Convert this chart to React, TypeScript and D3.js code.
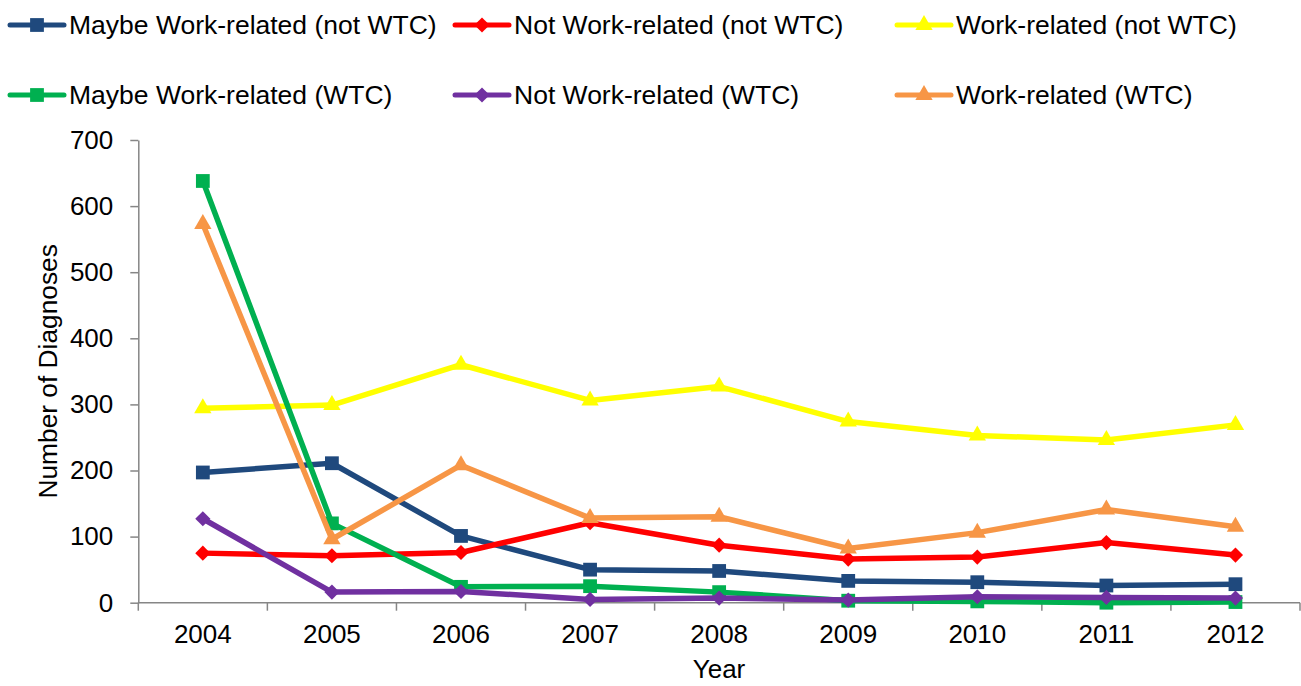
import React, { useEffect, useRef } from "react";
import * as d3 from "d3";

const years = ["2004", "2005", "2006", "2007", "2008", "2009", "2010", "2011", "2012"];
const yTicks = [0, 100, 200, 300, 400, 500, 600, 700];

const maybeNotWtc = [197, 211, 101, 50, 48, 33, 31, 26, 28];
const notNotWtc = [75, 71, 76, 121, 87, 66, 69, 91, 72];
const workNotWtc = [294, 299, 360, 306, 327, 274, 253, 246, 269];
const maybeWtc = [638, 120, 24, 25, 16, 3, 2, 0, 1];
const notWtc = [127, 16, 17, 5, 7, 4, 9, 8, 7];
const workWtc = [573, 96, 208, 128, 130, 82, 106, 141, 115];

const seriesNames = [
  "Maybe Work-related (not WTC)",
  "Not Work-related (not WTC)",
  "Work-related (not WTC)",
  "Maybe Work-related (WTC)",
  "Not Work-related (WTC)",
  "Work-related (WTC)",
];
const seriesColors = ["#1F497D", "#FF0000", "#FFFF00", "#00B050", "#7030A0", "#F79646"];
const seriesMarkers = ["square", "diamond", "triangle", "square", "diamond", "triangle"];

const W = 1301;
const H = 686;
const FONT = "Liberation Sans, Arial, sans-serif";

function markerPath(kind: string) {
  if (kind === "square") return d3.symbol(d3.symbolSquare, 190)()!;
  if (kind === "diamond") return d3.symbol(d3.symbolSquare, 115)()!;
  return d3.symbol(d3.symbolTriangle, 130)()!;
}

export default function App() {
  const svgRef = useRef<SVGSVGElement>(null);

  useEffect(() => {
    if (!svgRef.current) return;
    const svg = d3.select(svgRef.current);
    svg.selectAll("*").remove();

    const data = [maybeNotWtc, notNotWtc, workNotWtc, maybeWtc, notWtc, workWtc];

    const x = d3.scaleBand().domain(years).range([138.3, 1300]);
    const y = d3.scaleLinear().domain([0, 700]).range([602.7, 140]);
    const cx = (yr: string) => (x(yr) || 0) + x.bandwidth() / 2;

    // y-axis
    const yAxis = svg
      .append("g")
      .attr("transform", `translate(${x.range()[0]},0)`)
      .call(d3.axisLeft(y).tickValues(yTicks).tickSize(8).tickPadding(17).tickSizeOuter(0));
    yAxis.selectAll("text").style("font-size", "26px").style("font-family", FONT).attr("fill", "#000");

    // x-axis, ticks between categories
    const xAxis = svg.append("g").attr("transform", `translate(0,${y(0)})`);
    xAxis
      .append("line")
      .attr("x1", x.range()[0])
      .attr("x2", x.range()[1])
      .attr("stroke", "#868686")
      .attr("stroke-width", 1.5);
    const bounds = years.map((d) => x(d) || 0).concat([x.range()[1]]);
    xAxis
      .selectAll("line.tk")
      .data(bounds)
      .join("line")
      .attr("class", "tk")
      .attr("x1", (d) => d)
      .attr("x2", (d) => d)
      .attr("y1", 0)
      .attr("y2", 8)
      .attr("stroke", "#868686")
      .attr("stroke-width", 1.5);
    xAxis
      .selectAll("text")
      .data(years)
      .join("text")
      .attr("x", (d) => cx(d))
      .attr("y", 40)
      .attr("text-anchor", "middle")
      .style("font-size", "26px")
      .style("font-family", FONT)
      .text((d) => d);

    svg.selectAll(".domain").attr("stroke", "#868686").attr("stroke-width", 1.5);
    yAxis.selectAll(".tick line").attr("stroke", "#868686").attr("stroke-width", 1.5);

    // axis titles
    svg
      .append("text")
      .attr("x", 719)
      .attr("y", 678)
      .attr("text-anchor", "middle")
      .style("font-size", "26px")
      .style("font-family", FONT)
      .text("Year");
    svg
      .append("text")
      .attr("transform", `translate(57,${(y(0) + y(700)) / 2}) rotate(-90)`)
      .attr("text-anchor", "middle")
      .style("font-size", "26.3px")
      .style("font-family", FONT)
      .text("Number of Diagnoses");

    const line = d3
      .line<number>()
      .x((_, i) => cx(years[i]))
      .y((d) => y(d));

    data.forEach((vals, si) => {
      const g = svg.append("g");
      g.append("path")
        .attr("d", line(vals))
        .attr("fill", "none")
        .attr("stroke", seriesColors[si])
        .attr("stroke-width", 5.5)
        .attr("stroke-linejoin", "round");
      g.selectAll("path.m")
        .data(vals)
        .join("path")
        .attr("class", "m")
        .attr("d", markerPath(seriesMarkers[si]))
        .attr("transform", (d, i) => {
          const rot = seriesMarkers[si] === "diamond" ? " rotate(45)" : "";
          return `translate(${cx(years[i])},${y(d)})${rot}`;
        })
        .attr("fill", seriesColors[si]);
    });

    // legend
    const legX = [10, 455, 897];
    const legY = [25, 95];
    seriesNames.forEach((name, i) => {
      const lx = legX[i % 3];
      const ly = legY[Math.floor(i / 3)];
      const g = svg.append("g").attr("transform", `translate(${lx},${ly})`);
      g.append("line")
        .attr("x1", 0)
        .attr("x2", 54)
        .attr("stroke", seriesColors[i])
        .attr("stroke-width", 5)
        .attr("stroke-linecap", "round");
      g.append("path")
        .attr("d", markerPath(seriesMarkers[i]))
        .attr("transform", `translate(27,0)${seriesMarkers[i] === "diamond" ? " rotate(45)" : ""}`)
        .attr("fill", seriesColors[i]);
      g.append("text")
        .attr("x", 59)
        .attr("dy", "0.35em")
        .style("font-size", "26.5px")
        .style("font-family", FONT)
        .text(name);
    });
  }, []);

  return (
    <svg
      ref={svgRef}
      width={W}
      height={H}
      style={{ position: "absolute", left: 0, top: 0, background: "#fff" }}
    />
  );
}
